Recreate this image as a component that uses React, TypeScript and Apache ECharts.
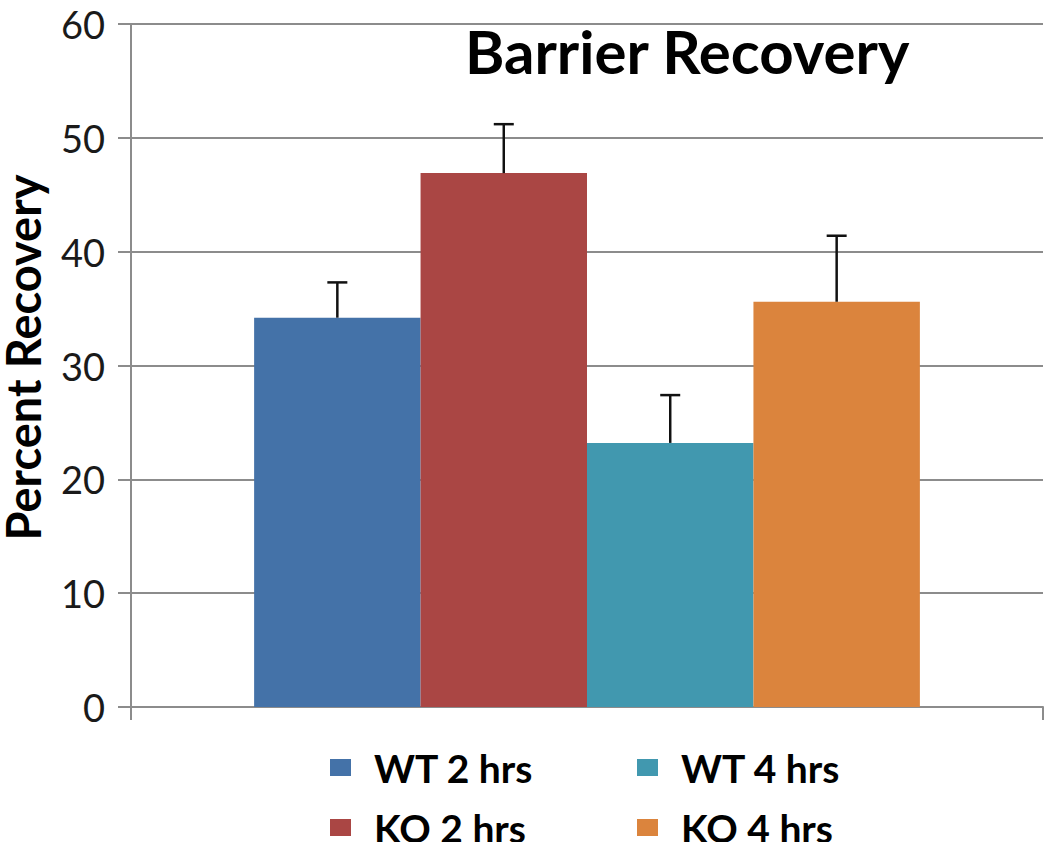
import React, { useEffect, useRef } from "react";
import * as echarts from "echarts";

const categories = [""];
const seriesNames = ["WT 2 hrs", "KO 2 hrs", "WT 4 hrs", "KO 4 hrs"];
const seriesValues = [34.2, 46.9, 23.2, 35.6];
const seriesErrors = [3.1, 4.3, 4.2, 5.8];
const seriesColors = ["#4472a8", "#aa4644", "#4198af", "#db843d"];
const yTicks = [0, 10, 20, 30, 40, 50, 60];

const CAT_GAP = 0.27;
const FONT = "Lato, 'Open Sans', sans-serif";

// legend slot placement (layout, not data)
const legendSlots = [
  { left: 330, top: 748 },
  { left: 330, top: 808 },
  { left: 637, top: 748 },
  { left: 637, top: 808 },
];

export default function App() {
  const ref = useRef<HTMLDivElement>(null);
  useEffect(() => {
    if (!ref.current) return;
    const chart = echarts.init(ref.current, undefined, { renderer: "svg" });
    const nSeries = seriesNames.length;
    const barSeries = seriesNames.map((name, i) => ({
      name,
      type: "bar",
      data: [seriesValues[i]],
      itemStyle: { color: seriesColors[i] },
      barGap: "0%",
      barCategoryGap: CAT_GAP * 100 + "%",
      z: 2,
    }));
    const errData = seriesNames.map((_, i) => [0, seriesValues[i], seriesErrors[i], i]);
    const legends = seriesNames.map((name, i) => ({
      orient: "horizontal",
      left: legendSlots[i].left,
      top: legendSlots[i].top,
      padding: 0,
      data: [name],
      icon: "rect",
      itemWidth: 21,
      itemHeight: 17,
      textStyle: {
        fontFamily: FONT,
        fontSize: 39,
        lineHeight: 34,
        fontWeight: "bold",
        color: "#000",
        padding: [0, 0, 0, 18],
      },
    }));
    chart.setOption({
      animation: false,
      backgroundColor: "#ffffff",
      textStyle: { fontFamily: FONT },
      title: {
        text: "Barrier Recovery",
        left: 460,
        top: 16,
        textStyle: { fontFamily: FONT, fontSize: 60, fontWeight: "bold", color: "#000" },
      },
      grid: { left: 131, right: 7, top: 24, bottom: 135, containLabel: false, outerBoundsMode: "none" },
      legend: legends,
      xAxis: {
        type: "category",
        data: categories,
        axisLine: { lineStyle: { color: "#8c8c8c", width: 2 } },
        axisTick: { show: true, length: 13, lineStyle: { color: "#8c8c8c", width: 2 } },
        axisLabel: { show: false },
      },
      yAxis: {
        type: "value",
        min: yTicks[0],
        max: yTicks[yTicks.length - 1],
        interval: 10,
        name: "Percent Recovery",
        nameLocation: "middle",
        nameGap: 85,
        nameRotate: 90,
        nameTextStyle: { fontFamily: FONT, fontSize: 47, fontWeight: "bold", color: "#000", padding: [0, 0, 0, 16] },
        axisLine: { show: true, lineStyle: { color: "#8c8c8c", width: 2 } },
        axisTick: { show: true, length: 13, lineStyle: { color: "#8c8c8c", width: 2 } },
        axisLabel: { fontFamily: FONT, fontSize: 38, color: "#1a1a1a", margin: 26 },
        splitLine: { show: true, lineStyle: { color: "#8c8c8c", width: 2 } },
      },
      series: [
        ...barSeries,
        {
          type: "custom",
          name: "errors",
          data: errData,
          z: 5,
          renderItem: (params: any, api: any) => {
            const cat = api.value(0);
            const val = api.value(1);
            const err = api.value(2);
            const s = api.value(3);
            const base = api.coord([cat, val]);
            const top = api.coord([cat, val + err]);
            const catW = api.size([1, 0])[0];
            const barW = (catW * (1 - CAT_GAP)) / nSeries;
            const x = base[0] - (nSeries * barW) / 2 + (s + 0.5) * barW;
            const style = { stroke: "#111", lineWidth: 2.5 };
            return {
              type: "group",
              children: [
                { type: "line", shape: { x1: x, y1: base[1], x2: x, y2: top[1] }, style },
                { type: "line", shape: { x1: x - 10, y1: top[1], x2: x + 10, y2: top[1] }, style },
              ],
            };
          },
        },
      ],
    });
    return () => chart.dispose();
  }, []);
  return (
    <div
      ref={ref}
      style={{ position: "fixed", left: 0, top: 0, width: 1050, height: 842, overflow: "visible" }}
    />
  );
}
